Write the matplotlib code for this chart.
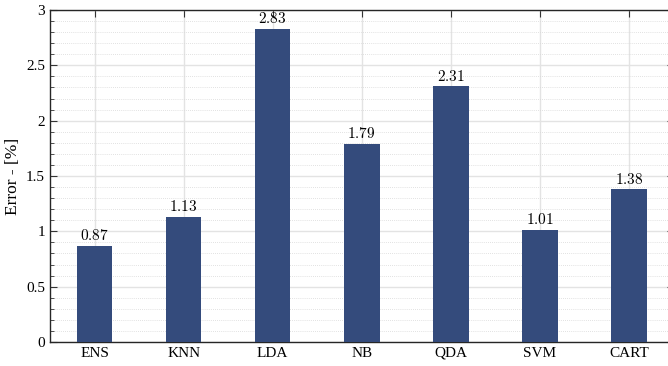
import numpy as np
import matplotlib.pyplot as plt
from matplotlib.ticker import MultipleLocator

models = ['ENS', 'KNN', 'LDA', 'NB', 'QDA', 'SVM', 'CART']
errors = [0.87, 1.13, 2.83, 1.79, 2.31, 1.01, 1.38]
yticks = [0, 0.5, 1, 1.5, 2, 2.5, 3]
ytick_labels = ['0', '0.5', '1', '1.5', '2', '2.5', '3']

plt.rcParams['font.family'] = ['Liberation Serif', 'DejaVu Serif']
plt.rcParams['font.size'] = 11
plt.rcParams['mathtext.fontset'] = 'cm'

fig = plt.figure(figsize=(6.68, 3.66), dpi=100)
ax = fig.add_axes([50 / 668, 24 / 366, 623.5 / 668, 332 / 366])

x = np.arange(1, len(models) + 1)
ax.bar(x, errors, width=0.4, color='#344b7c', zorder=3)
for xi, v in zip(x, errors):
    ax.text(xi, v + 0.025, f'${v:.2f}$', ha='center', va='bottom', fontsize=11)

ax.set_xlim(0.5, 7.5)
ax.set_ylim(0, 3)
ax.set_xticks(x)
ax.set_xticklabels(models)
ax.set_yticks(yticks)
ax.set_yticklabels(ytick_labels)
ax.yaxis.set_minor_locator(MultipleLocator(0.1))
ax.set_ylabel('Error - [%]', fontsize=12.5)

ax.grid(which='major', color='#e3e3e3', linewidth=1, zorder=0)
ax.grid(which='minor', axis='y', color='#d8d8d8', linestyle=(0, (1, 1.5)), linewidth=0.6, zorder=0)
ax.tick_params(which='both', direction='in', top=True, right=True, color='#333333')
ax.tick_params(which='major', length=5)
ax.tick_params(which='minor', length=3)
ax.tick_params(axis='x', which='minor', bottom=False, top=False)
for s in ax.spines.values():
    s.set_color('#262626')
    s.set_linewidth(1)

fig.savefig('out.png', dpi=100)
